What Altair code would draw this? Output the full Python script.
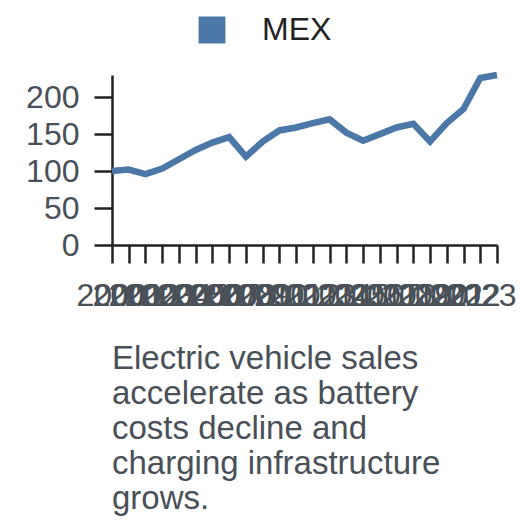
import altair as alt
import pandas as pd

years = [str(y) for y in range(2000, 2024)]
values = [100, 102, 96, 103.5, 116, 128.5, 138.5, 146, 119.5, 140, 155, 159,
          165, 170, 152, 141, 150, 159, 164, 140, 165, 184, 226, 230]
series = ["MEX"] * len(years)
caption = ["Electric vehicle sales", "accelerate as battery", "costs decline and",
           "charging infrastructure", "grows."]

df = pd.DataFrame({"year": years, "value": values, "country": series})

FONT = "Liberation Sans"
GRAY = "#495057"
BLUE = "#4c78a8"

base = alt.Chart(df)

line = base.mark_line(strokeWidth=6.5).encode(
    x=alt.X("year:O", scale=alt.Scale(type="point", padding=0),
            axis=alt.Axis(title=None, labels=False, orient="bottom")),
    y=alt.Y("value:Q", scale=alt.Scale(domain=[0, 230], nice=False),
            axis=alt.Axis(title=None, values=[0, 50, 100, 150, 200], grid=False,
                          labelPadding=15)),
    color=alt.Color("country:N", scale=alt.Scale(range=[BLUE]),
                    legend=alt.Legend(title=None, orient="none", legendX=84, legendY=-61,
                                      symbolType="square", symbolSize=620,
                                      symbolFillColor=BLUE, symbolStrokeColor=BLUE,
                                      symbolStrokeWidth=2,
                                      labelFontSize=32, labelColor="#222222",
                                      labelOffset=34, padding=0, labelFont=FONT)),
)

labels = base.mark_point(opacity=0).encode(
    x=alt.X("year:O", scale=alt.Scale(type="band", paddingInner=0, paddingOuter=0),
            axis=alt.Axis(title=None, orient="bottom", bandPosition=0, ticks=False,
                          tickSize=0, domain=False, labelAngle=0, labelOverlap=False,
                          labelPadding=35, labelOffset=-8)),
)

chart = alt.layer(line, labels).resolve_scale(x="independent").properties(
    width=385, height=170,
    autosize=alt.AutoSizeParams(type="none"),
    padding={"left": 104, "top": 67, "right": 23, "bottom": 275},
    title=alt.TitleParams(text=caption, orient="bottom", anchor="start", frame="group",
                          fontSize=33, fontWeight="normal", color=GRAY, lineHeight=35,
                          offset=32, font=FONT),
).configure_axis(
    labelFont=FONT, labelFontSize=32, labelColor=GRAY,
    tickSize=18, tickWidth=2.5, tickColor="#222222",
    domainWidth=2.5, domainColor="#222222", grid=False,
).configure_view(stroke=None)

chart.save("out.html", embed_options={"renderer": "svg", "actions": False})
